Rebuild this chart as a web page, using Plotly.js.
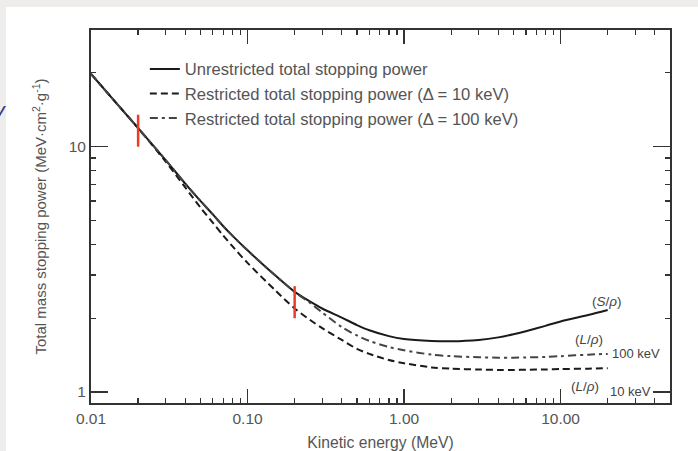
<!DOCTYPE html>
<html><head><meta charset="utf-8">
<script src="https://cdn.plot.ly/plotly-3.0.1.min.js"></script>
<style>
html,body{margin:0;padding:0;background:#efedeb;width:698px;height:451px;overflow:hidden;}
#chart{position:absolute;left:6px;top:7px;width:692px;height:444px;background:#fff;}
#edge{position:absolute;left:-9px;top:102px;font:italic 20px "Liberation Sans",Arial,sans-serif;color:#2c3b8c;}
</style></head><body>
<div id="edge">V</div>
<div id="chart"></div>
<script>
// Kinetic energy (MeV)
const energyMeV = [0.01, 0.015, 0.02, 0.03, 0.04, 0.05, 0.06, 0.07, 0.08, 0.1, 0.15, 0.2, 0.25, 0.3, 0.4, 0.5, 0.6, 0.8, 1.0, 1.5, 2, 3, 4, 5, 6, 8, 10, 15, 20];
// Unrestricted total stopping power (S/rho), MeV cm2/g
const unrestricted = [19.8, 14.7, 11.9, 8.82, 7.07, 6.01, 5.30, 4.74, 4.34, 3.78, 2.99, 2.56, 2.34, 2.19, 2.01, 1.875, 1.785, 1.69, 1.645, 1.615, 1.61, 1.63, 1.67, 1.72, 1.77, 1.86, 1.94, 2.06, 2.16];
// Restricted total stopping power, Delta = 10 keV
const restricted10keV = [19.8, 14.7, 11.9, 8.69, 6.82, 5.65, 4.90, 4.34, 3.93, 3.36, 2.60, 2.19, 1.97, 1.82, 1.63, 1.50, 1.43, 1.35, 1.31, 1.26, 1.245, 1.235, 1.23, 1.23, 1.232, 1.236, 1.24, 1.245, 1.25];
// Restricted total stopping power, Delta = 100 keV
const restricted100keV = [19.8, 14.7, 11.9, 8.82, 7.07, 6.01, 5.30, 4.74, 4.34, 3.78, 2.99, 2.56, 2.31, 2.11, 1.84, 1.70, 1.615, 1.525, 1.48, 1.42, 1.40, 1.385, 1.38, 1.38, 1.383, 1.39, 1.40, 1.42, 1.43];
// Red vertical markers
const markerEnergy = [0.02, 0.2];
const markerLow = [10, 2.0];
const markerHigh = [13.5, 2.7];
// Ticks
const xTickVals = [0.01, 0.1, 1, 10];
const xTickText = ['0.01', '0.10', '1.00', '10.00'];
const yTickVals = [1, 10];
const yTickText = ['1', '10'];
const minorDigits = [2, 3, 4, 5, 6, 7, 8, 9];
const xMinorDecades = [0.01, 0.1, 1, 10];
const yMinorDecades = [1, 10];

const xMinor = [], yMinor = [];
xMinorDecades.forEach(d => minorDigits.forEach(k => xMinor.push(k * d)));
yMinorDecades.forEach(d => minorDigits.forEach(k => yMinor.push(k * d)));

const mx = [], my = [];
markerEnergy.forEach((e, i) => { mx.push(e, e, null); my.push(markerLow[i], markerHigh[i], null); });

const FF = '"Liberation Sans", Arial, Helvetica, sans-serif';
const AX = '#333';
const TXT = '#555';

const traces = [
  {x: energyMeV, y: unrestricted, mode: 'lines', name: 'Unrestricted total stopping power', legendgroup: 'a',
   line: {color: '#1a1a1a', width: 2, shape: 'spline', smoothing: 0.8}},
  {x: energyMeV, y: restricted10keV, mode: 'lines', name: 'Restricted total stopping power (Δ = 10 keV)', legendgroup: 'b',
   line: {color: '#1a1a1a', width: 2, dash: '7px,4px', shape: 'spline', smoothing: 0.8}},
  {x: energyMeV, y: restricted100keV, mode: 'lines', name: 'Restricted total stopping power (Δ = 100 keV)', legendgroup: 'c',
   line: {color: '#444', width: 2, dash: '8px,4px,3px,4px', shape: 'spline', smoothing: 0.8}},
  {x: mx, y: my, mode: 'lines', showlegend: false, hoverinfo: 'skip',
   line: {color: '#ec3b22', width: 2.5}}
];

function minorCfg(vals) {
  return {tickmode: 'array', tickvals: vals, ticks: 'inside', ticklen: 5, tickwidth: 1.3, tickcolor: AX, showgrid: false};
}

const annFont = {family: FF, size: 13.5, color: '#444'};
const layout = {
  width: 692, height: 444,
  margin: {l: 85, r: 28, t: 23, b: 48},
  paper_bgcolor: '#fff', plot_bgcolor: '#fff',
  font: {family: FF, color: TXT, size: 15.5},
  showlegend: true,
  legend: {x: 0.093, y: 0.942, xanchor: 'left', yanchor: 'top', bgcolor: 'rgba(0,0,0,0)',
           font: {family: FF, size: 16.6, color: TXT}, tracegroupgap: 0},
  xaxis: {
    type: 'log', range: [Math.log10(0.01), Math.log10(50)],
    tickmode: 'array', tickvals: xTickVals, ticktext: xTickText,
    ticks: 'inside', ticklen: 14, tickwidth: 1.6, tickcolor: AX,
    showline: true, linecolor: AX, linewidth: 2, mirror: 'allticks',
    showgrid: false, zeroline: false,
    minor: minorCfg(xMinor),
    tickfont: {family: FF, size: 15.5, color: TXT},
    title: {text: 'Kinetic energy (MeV)' + '\u00a0'.repeat(9), font: {family: FF, size: 15.7, color: TXT}, standoff: 14}
  },
  yaxis: {
    type: 'log', range: [Math.log10(0.902), Math.log10(29.9)],
    tickmode: 'array', tickvals: yTickVals, ticktext: yTickText,
    ticks: 'inside', ticklen: 17, tickwidth: 1.6, tickcolor: AX,
    showline: true, linecolor: AX, linewidth: 2, mirror: 'allticks',
    showgrid: false, zeroline: false,
    minor: minorCfg(yMinor),
    tickfont: {family: FF, size: 15.5, color: TXT},
    title: {text: 'Total mass stopping power (MeV·cm<sup>2</sup>·g<sup>-1</sup>)', font: {family: FF, size: 15, color: TXT}, standoff: 18}
  },
  annotations: [
    {xref: 'paper', yref: 'paper', x: 0.891, y: 0.271, xanchor: 'center', yanchor: 'middle', text: '(<i>S</i>/<i>ρ</i>)', showarrow: false, font: annFont},
    {xref: 'paper', yref: 'paper', x: 0.860, y: 0.169, xanchor: 'center', yanchor: 'middle', text: '(<i>L</i>/<i>ρ</i>)', showarrow: false, font: annFont},
    {xref: 'paper', yref: 'paper', x: 0.941, y: 0.134, xanchor: 'center', yanchor: 'middle', text: '100 keV', showarrow: false, font: {family: FF, size: 13, color: '#444'}},
    {xref: 'paper', yref: 'paper', x: 0.853, y: 0.043, xanchor: 'center', yanchor: 'middle', text: '(<i>L</i>/<i>ρ</i>)', showarrow: false, font: annFont},
    {xref: 'paper', yref: 'paper', x: 0.931, y: 0.0295, xanchor: 'center', yanchor: 'middle', text: '10 keV', showarrow: false, font: {family: FF, size: 13, color: '#444'}}
  ]
};

Plotly.newPlot('chart', traces, layout, {displayModeBar: false, staticPlot: true});
</script>
</body></html>
